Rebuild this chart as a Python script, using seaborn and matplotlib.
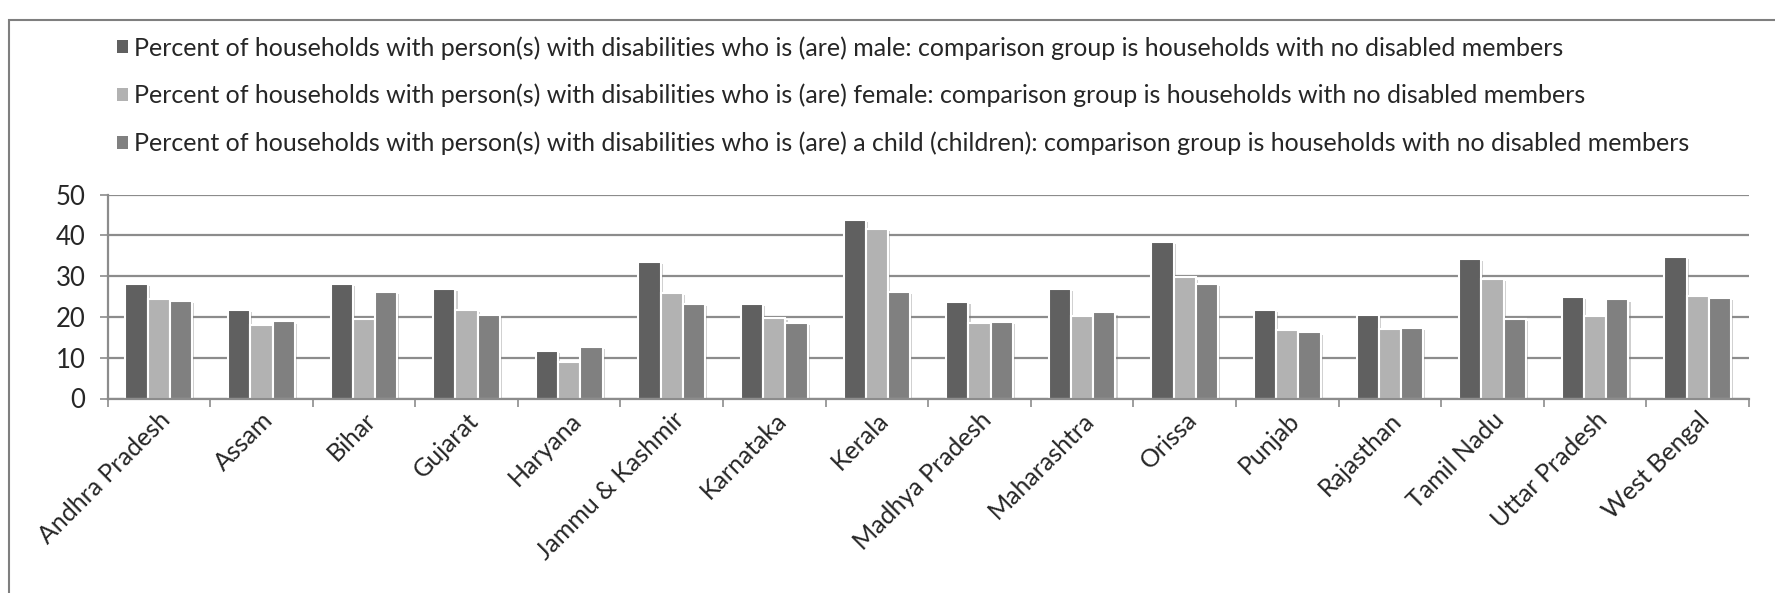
import numpy as np
import pandas as pd
import matplotlib
matplotlib.use('Agg')
import matplotlib.pyplot as plt
import matplotlib.patheffects as pe
from matplotlib.patches import Patch, Rectangle
import seaborn as sns

# Data
states = ['Andhra Pradesh', 'Assam', 'Bihar', 'Gujarat', 'Haryana', 'Jammu & Kashmir',
          'Karnataka', 'Kerala', 'Madhya Pradesh', 'Maharashtra', 'Orissa', 'Punjab',
          'Rajasthan', 'Tamil Nadu', 'Uttar Pradesh', 'West Bengal']
male = [28.2, 21.7, 28.2, 26.9, 11.6, 33.6, 23.1, 43.9, 23.6, 26.9, 38.5, 21.8, 20.6, 34.3, 24.8, 34.8]
female = [24.3, 18.0, 19.6, 21.8, 9.0, 25.8, 19.7, 41.6, 18.5, 20.2, 29.7, 16.8, 17.1, 29.3, 20.2, 25.1]
child = [23.9, 18.9, 26.1, 20.5, 12.6, 23.1, 18.5, 26.1, 18.8, 21.1, 28.2, 16.2, 17.2, 19.6, 24.3, 24.6]

groups = [
    'Percent of households with person(s) with disabilities who is (are) male: comparison group is households with no disabled members',
    'Percent of households with person(s) with disabilities who is (are) female: comparison group is households with no disabled members',
    'Percent of households with person(s) with disabilities who is (are) a child (children): comparison group is households with no disabled members',
]
colors = ['#606060', '#b2b2b2', '#808080']

df = pd.DataFrame({
    'state': states * 3,
    'group': [groups[0]] * 16 + [groups[1]] * 16 + [groups[2]] * 16,
    'value': male + female + child,
})

sns.set_style('white')
plt.rcParams['font.family'] = ['Lato', 'DejaVu Sans']

W, H = 1775, 593
fig = plt.figure(figsize=(W / 100, H / 100), dpi=100)
ax = fig.add_axes([107.5 / W, 1 - 398.5 / H, (1749 - 107.5) / W, (398.5 - 194.7) / H])

sns.barplot(data=df, x='state', y='value', hue='group', hue_order=groups,
            palette=colors, width=0.65, saturation=1, edgecolor='white',
            linewidth=1.5, legend=False, ax=ax)

for bar in ax.patches:
    bar.set_path_effects([pe.SimplePatchShadow(offset=(1.5, -1.5), shadow_rgbFace='#777777', alpha=0.35),
                          pe.Normal()])

ax.set_ylim(0, 50)
ax.set_xlim(-0.5, len(states) - 0.5)
ax.set_yticks(np.arange(0, 51, 10))
ax.yaxis.grid(True, color='#8c8c8c', linewidth=1.6)
ax.set_axisbelow(True)
ax.set_xlabel('')
ax.set_ylabel('')

for s in ['top', 'right']:
    ax.spines[s].set_visible(False)
for s in ['left', 'bottom']:
    ax.spines[s].set_color('#8c8c8c')
    ax.spines[s].set_linewidth(1.6)

ax.tick_params(axis='y', length=6, width=1.2, color='#8c8c8c', direction='out', pad=10, labelsize=18.5, left=True)
ax.set_xticks(np.arange(len(states)))
ax.set_xticklabels(states, rotation=45, ha='right', rotation_mode='anchor', fontsize=18)
ax.tick_params(axis='x', which='major', length=0, pad=7)
ax.set_xticks(np.arange(-0.5, len(states)), minor=True)
ax.tick_params(axis='x', which='minor', length=6, width=1.2, color='#8c8c8c', direction='out', bottom=True)

handles = [Patch(facecolor=c, edgecolor='none') for c in colors]
fig.legend(handles, groups, loc='upper left', bbox_to_anchor=(117 / W, 1 - 36 / H),
           frameon=False, fontsize=18, handlelength=0.42, handleheight=0.42,
           handletextpad=0.25, labelspacing=0.97, borderpad=0, borderaxespad=0)

fig.patches.append(Rectangle((9 / W, -0.1), 1.2, 1.1 - 20 / H, transform=fig.transFigure,
                             fill=False, edgecolor='#7f7f7f', linewidth=1.5))

fig.savefig('out.png', dpi=100, facecolor='white')
